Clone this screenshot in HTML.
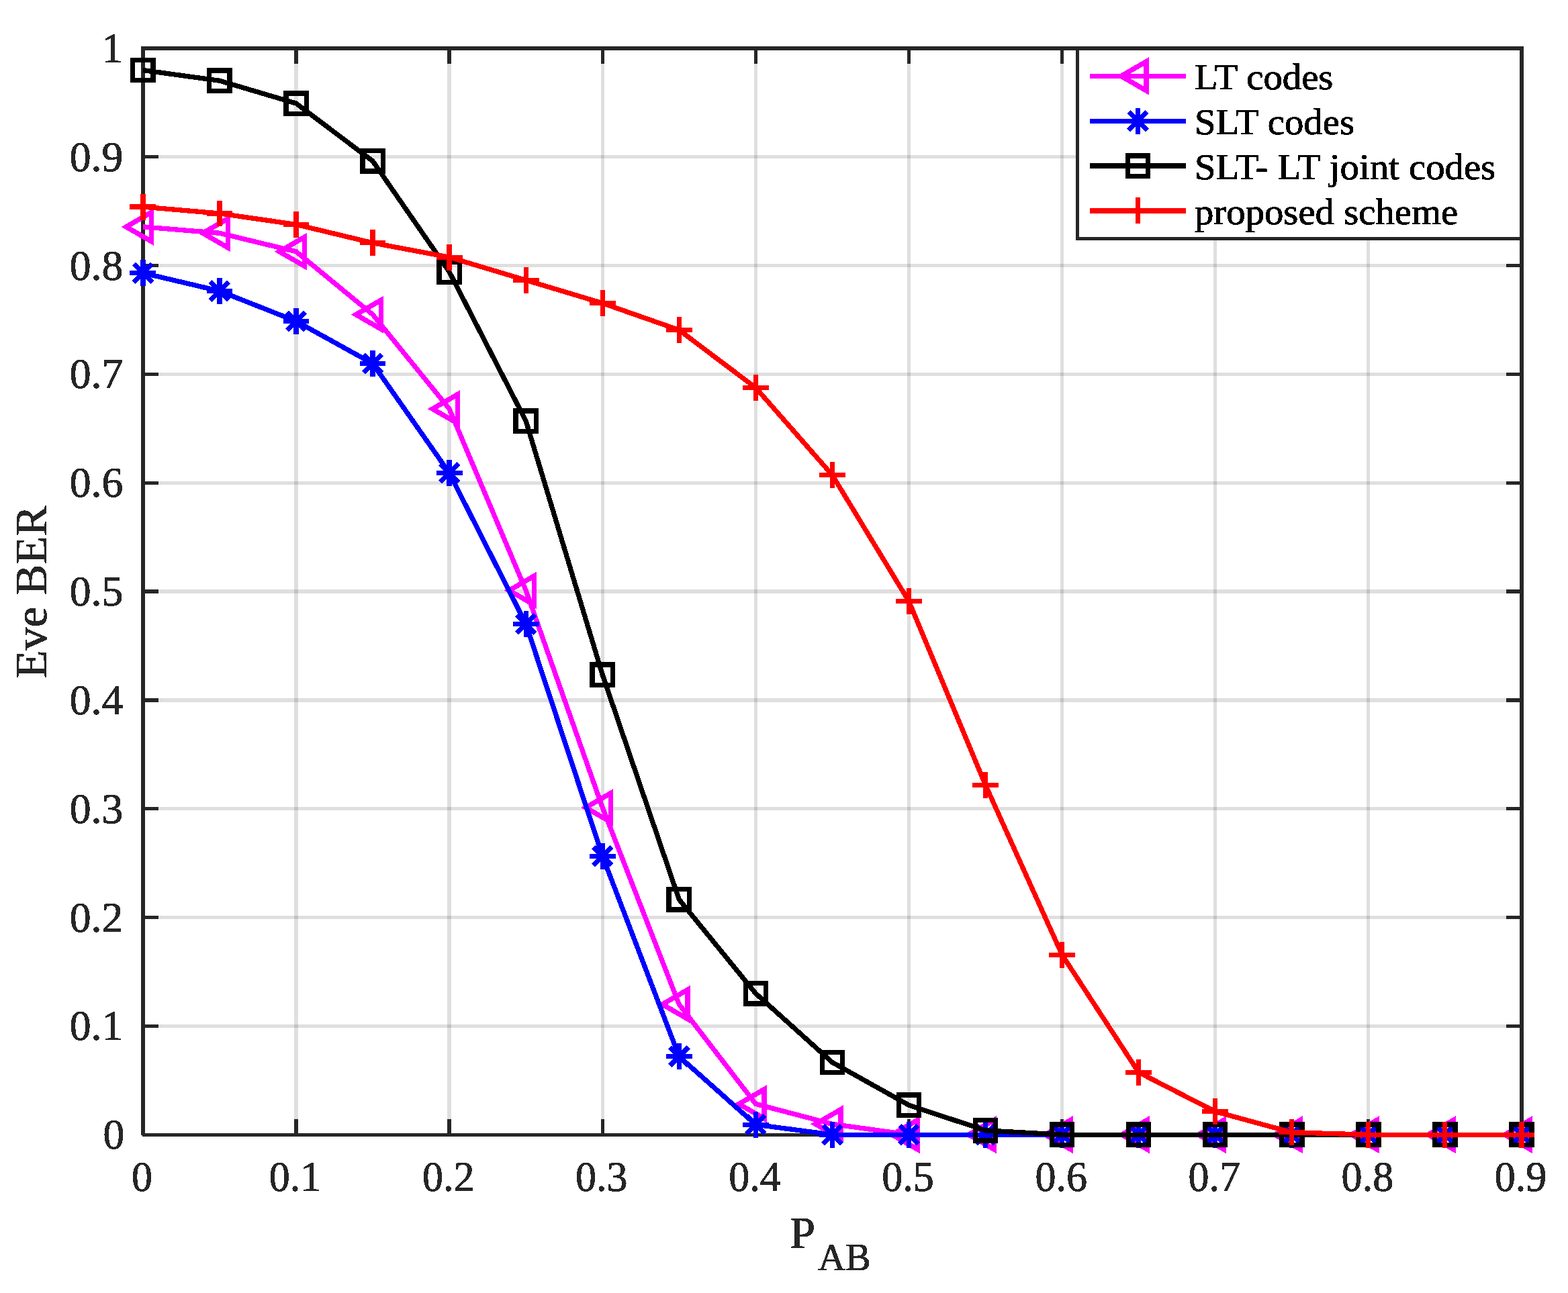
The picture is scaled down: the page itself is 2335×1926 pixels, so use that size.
<!DOCTYPE html>
<html lang="en">
<head>
<meta charset="utf-8">
<title>Eve BER versus P_AB</title>
<style>
html,body{margin:0;padding:0;background:#fff;}
svg{display:block;width:2335px;height:1926px;}
</style>
</head>
<body>
<svg width="2335" height="1926" viewBox="0 0 2335 1926" role="img" aria-label="Eve BER versus P AB for LT codes, SLT codes, SLT- LT joint codes and the proposed scheme">
<defs><filter id="crisp" x="-5%" y="-20%" width="110%" height="140%" color-interpolation-filters="sRGB"><feComponentTransfer><feFuncA type="discrete" tableValues="0 0 1 1 1"/></feComponentTransfer></filter></defs>
<rect width="2335" height="1926" fill="#fff"/>
<g id="grid" stroke="#262626" stroke-opacity="0.15" stroke-width="5.3" fill="none" shape-rendering="crispEdges">
<path d="M441.01 72.0V1690.2"/>
<path d="M669.12 72.0V1690.2"/>
<path d="M897.23 72.0V1690.2"/>
<path d="M1125.34 72.0V1690.2"/>
<path d="M1353.46 72.0V1690.2"/>
<path d="M1581.57 72.0V1690.2"/>
<path d="M1809.68 72.0V1690.2"/>
<path d="M2037.79 72.0V1690.2"/>
<path d="M212.9 1528.38H2265.9"/>
<path d="M212.9 1366.56H2265.9"/>
<path d="M212.9 1204.74H2265.9"/>
<path d="M212.9 1042.92H2265.9"/>
<path d="M212.9 881.1H2265.9"/>
<path d="M212.9 719.28H2265.9"/>
<path d="M212.9 557.46H2265.9"/>
<path d="M212.9 395.64H2265.9"/>
<path d="M212.9 233.82H2265.9"/>
</g>
<g id="axes" stroke="#262626" stroke-width="5.3" fill="none" shape-rendering="crispEdges">
<path d="M210.25 72.0H2268.55M212.3 1690.2H2268.55M212.9 72.0V1690.6M2265.9 72.0V1692.85"/>
<path d="M441.01 1690.2v-23M441.01 72.0v23M669.12 1690.2v-23M669.12 72.0v23M897.23 1690.2v-23M897.23 72.0v23M1125.34 1690.2v-23M1125.34 72.0v23M1353.46 1690.2v-23M1353.46 72.0v23M1581.57 1690.2v-23M1581.57 72.0v23M1809.68 1690.2v-23M1809.68 72.0v23M2037.79 1690.2v-23M2037.79 72.0v23M212.9 1528.38h23M2265.9 1528.38h-23M212.9 1366.56h23M2265.9 1366.56h-23M212.9 1204.74h23M2265.9 1204.74h-23M212.9 1042.92h23M2265.9 1042.92h-23M212.9 881.1h23M2265.9 881.1h-23M212.9 719.28h23M2265.9 719.28h-23M212.9 557.46h23M2265.9 557.46h-23M212.9 395.64h23M2265.9 395.64h-23M212.9 233.82h23M2265.9 233.82h-23"/>
</g>
<g id="ticklabels" font-family="'Liberation Serif', serif" fill="#262626" stroke="#262626" stroke-width="0.7" stroke-linejoin="round" filter="url(#crisp)">
<g text-anchor="middle" font-size="63">
<text transform="translate(211.5 1774) scale(0.985 1)">0</text>
<text transform="translate(439.61 1774) scale(0.985 1)">0.1</text>
<text transform="translate(667.72 1774) scale(0.985 1)">0.2</text>
<text transform="translate(895.83 1774) scale(0.985 1)">0.3</text>
<text transform="translate(1123.94 1774) scale(0.985 1)">0.4</text>
<text transform="translate(1352.06 1774) scale(0.985 1)">0.5</text>
<text transform="translate(1580.17 1774) scale(0.985 1)">0.6</text>
<text transform="translate(1808.28 1774) scale(0.985 1)">0.7</text>
<text transform="translate(2036.39 1774) scale(0.985 1)">0.8</text>
<text transform="translate(2264.5 1774) scale(0.985 1)">0.9</text>
</g><g text-anchor="end" font-size="63.7">
<text x="185.3" y="1711.2">0</text>
<text x="183.3" y="1549.38">0.1</text>
<text x="183.3" y="1387.56">0.2</text>
<text x="183.3" y="1225.74">0.3</text>
<text x="183.3" y="1063.92">0.4</text>
<text x="183.3" y="902.1">0.5</text>
<text x="183.3" y="740.28">0.6</text>
<text x="183.3" y="578.46">0.7</text>
<text x="183.3" y="416.64">0.8</text>
<text x="183.3" y="254.82">0.9</text>
<text x="183.3" y="93">1</text>
</g></g>
<g id="axislabels" font-family="'Liberation Serif', serif" fill="#262626" stroke="#262626" stroke-width="0.7" stroke-linejoin="round" filter="url(#crisp)"><text font-size="68.75" text-anchor="middle" transform="translate(68.9 881.7) rotate(-90) scale(1 0.978)">Eve BER</text><text font-size="68.75" transform="translate(1175.9 1858.8) scale(1 0.978)">P</text><text font-size="56.4" transform="translate(1218.3 1892.4) scale(1 1)">AB</text></g>
<g id="series-lt" shape-rendering="crispEdges">
<polyline points="212.9,337.87 326.96,347.26 441.01,374.77 555.07,468.62 669.12,609.08 783.18,879.48 897.23,1202.96 1011.29,1496.02 1125.34,1644.4 1239.4,1674.34 1353.46,1690.2 1467.51,1690.2 1581.57,1690.2 1695.62,1690.2 1809.68,1690.2 1923.73,1690.2 2037.79,1690.2 2151.84,1690.2 2265.9,1690.2" fill="none" stroke="#ff00ff" stroke-width="7.3" stroke-linejoin="round"/>
<g fill="none" stroke="#ff00ff" stroke-width="7.47" stroke-linejoin="miter" stroke-miterlimit="10">
<path d="M187.9 337.87L225.4 316.22V359.52Z"/>
<path d="M301.96 347.26L339.46 325.61V368.91Z"/>
<path d="M416.01 374.77L453.51 353.11V396.42Z"/>
<path d="M530.07 468.62L567.57 446.97V490.27Z"/>
<path d="M644.12 609.08L681.62 587.43V630.73Z"/>
<path d="M758.18 879.48L795.68 857.83V901.13Z"/>
<path d="M872.23 1202.96L909.73 1181.31V1224.61Z"/>
<path d="M986.29 1496.02L1023.79 1474.37V1517.67Z"/>
<path d="M1100.34 1644.4L1137.84 1622.75V1666.06Z"/>
<path d="M1214.4 1674.34L1251.9 1652.69V1695.99Z"/>
<path d="M1328.46 1690.2L1365.96 1668.55V1711.85Z"/>
<path d="M1442.51 1690.2L1480.01 1668.55V1711.85Z"/>
<path d="M1556.57 1690.2L1594.07 1668.55V1711.85Z"/>
<path d="M1670.62 1690.2L1708.12 1668.55V1711.85Z"/>
<path d="M1784.68 1690.2L1822.18 1668.55V1711.85Z"/>
<path d="M1898.73 1690.2L1936.23 1668.55V1711.85Z"/>
<path d="M2012.79 1690.2L2050.29 1668.55V1711.85Z"/>
<path d="M2126.84 1690.2L2164.34 1668.55V1711.85Z"/>
<path d="M2240.9 1690.2L2278.4 1668.55V1711.85Z"/>
</g></g>
<g id="series-slt" shape-rendering="crispEdges">
<polyline points="212.9,406.64 326.96,433.51 441.01,478.49 555.07,541.6 669.12,704.55 783.18,929.48 897.23,1275.29 1011.29,1573.69 1125.34,1675.15 1239.4,1690.2 1353.46,1690.2 1467.51,1690.2 1581.57,1690.2 1695.62,1690.2 1809.68,1690.2 1923.73,1690.2 2037.79,1690.2 2151.84,1690.2 2265.9,1690.2" fill="none" stroke="#0000ff" stroke-width="7.3" stroke-linejoin="round"/>
<g fill="none" stroke="#0000ff" stroke-width="7.3" stroke-linejoin="miter" stroke-miterlimit="10">
<path d="M193.48 406.64H232.32M212.9 387.22V426.06M199.17 392.91L226.63 420.38M199.17 420.38L226.63 392.91"/>
<path d="M307.54 433.51H346.38M326.96 414.09V452.93M313.22 419.77L340.69 447.24M313.22 447.24L340.69 419.77"/>
<path d="M421.59 478.49H460.43M441.01 459.07V497.91M427.28 464.76L454.74 492.22M427.28 492.22L454.74 464.76"/>
<path d="M535.65 541.6H574.49M555.07 522.18V561.02M541.33 527.87L568.8 555.33M541.33 555.33L568.8 527.87"/>
<path d="M649.7 704.55H688.54M669.12 685.13V723.97M655.39 690.82L682.85 718.29M655.39 718.29L682.85 690.82"/>
<path d="M763.76 929.48H802.6M783.18 910.06V948.9M769.45 915.75L796.91 943.22M769.45 943.22L796.91 915.75"/>
<path d="M877.81 1275.29H916.65M897.23 1255.87V1294.71M883.5 1261.56L910.97 1289.03M883.5 1289.03L910.97 1261.56"/>
<path d="M991.87 1573.69H1030.71M1011.29 1554.27V1593.11M997.56 1559.96L1025.02 1587.42M997.56 1587.42L1025.02 1559.96"/>
<path d="M1105.92 1675.15H1144.76M1125.34 1655.73V1694.57M1111.61 1661.42L1139.08 1688.88M1111.61 1688.88L1139.08 1661.42"/>
<path d="M1219.98 1690.2H1258.82M1239.4 1670.78V1709.62M1225.67 1676.47L1253.13 1703.93M1225.67 1703.93L1253.13 1676.47"/>
<path d="M1334.04 1690.2H1372.88M1353.46 1670.78V1709.62M1339.72 1676.47L1367.19 1703.93M1339.72 1703.93L1367.19 1676.47"/>
<path d="M1448.09 1690.2H1486.93M1467.51 1670.78V1709.62M1453.78 1676.47L1481.24 1703.93M1453.78 1703.93L1481.24 1676.47"/>
<path d="M1562.15 1690.2H1600.99M1581.57 1670.78V1709.62M1567.83 1676.47L1595.3 1703.93M1567.83 1703.93L1595.3 1676.47"/>
<path d="M1676.2 1690.2H1715.04M1695.62 1670.78V1709.62M1681.89 1676.47L1709.35 1703.93M1681.89 1703.93L1709.35 1676.47"/>
<path d="M1790.26 1690.2H1829.1M1809.68 1670.78V1709.62M1795.95 1676.47L1823.41 1703.93M1795.95 1703.93L1823.41 1676.47"/>
<path d="M1904.31 1690.2H1943.15M1923.73 1670.78V1709.62M1910 1676.47L1937.47 1703.93M1910 1703.93L1937.47 1676.47"/>
<path d="M2018.37 1690.2H2057.21M2037.79 1670.78V1709.62M2024.06 1676.47L2051.52 1703.93M2024.06 1703.93L2051.52 1676.47"/>
<path d="M2132.42 1690.2H2171.26M2151.84 1670.78V1709.62M2138.11 1676.47L2165.58 1703.93M2138.11 1703.93L2165.58 1676.47"/>
<path d="M2246.48 1690.2H2285.32M2265.9 1670.78V1709.62M2252.17 1676.47L2279.63 1703.93M2252.17 1703.93L2279.63 1676.47"/>
</g></g>
<g id="series-j" shape-rendering="crispEdges">
<polyline points="212.9,104.53 326.96,120.22 441.01,154.04 555.07,239.97 669.12,405.03 783.18,627.04 897.23,1005.22 1011.29,1339.86 1125.34,1479.83 1239.4,1582.43 1353.46,1646.18 1467.51,1683.89 1581.57,1690.2 1695.62,1690.2 1809.68,1690.2 1923.73,1690.2 2037.79,1690.2 2151.84,1690.2 2265.9,1690.2" fill="none" stroke="#000000" stroke-width="7.3" stroke-linejoin="round"/>
<g fill="#000000" stroke="none">
<path fill-rule="evenodd" d="M194.1 85.73H231.7V123.33H194.1ZM201.4 93.03H224.4V116.03H201.4Z"/>
<path fill-rule="evenodd" d="M308.16 101.42H345.76V139.02H308.16ZM315.46 108.72H338.46V131.72H315.46Z"/>
<path fill-rule="evenodd" d="M422.21 135.24H459.81V172.84H422.21ZM429.51 142.54H452.51V165.54H429.51Z"/>
<path fill-rule="evenodd" d="M536.27 221.17H573.87V258.77H536.27ZM543.57 228.47H566.57V251.47H543.57Z"/>
<path fill-rule="evenodd" d="M650.32 386.23H687.92V423.83H650.32ZM657.62 393.53H680.62V416.53H657.62Z"/>
<path fill-rule="evenodd" d="M764.38 608.24H801.98V645.84H764.38ZM771.68 615.54H794.68V638.54H771.68Z"/>
<path fill-rule="evenodd" d="M878.43 986.42H916.03V1024.02H878.43ZM885.73 993.72H908.73V1016.72H885.73Z"/>
<path fill-rule="evenodd" d="M992.49 1321.06H1030.09V1358.66H992.49ZM999.79 1328.36H1022.79V1351.36H999.79Z"/>
<path fill-rule="evenodd" d="M1106.54 1461.03H1144.14V1498.63H1106.54ZM1113.84 1468.33H1136.84V1491.33H1113.84Z"/>
<path fill-rule="evenodd" d="M1220.6 1563.63H1258.2V1601.23H1220.6ZM1227.9 1570.93H1250.9V1593.93H1227.9Z"/>
<path fill-rule="evenodd" d="M1334.66 1627.38H1372.26V1664.98H1334.66ZM1341.96 1634.68H1364.96V1657.68H1341.96Z"/>
<path fill-rule="evenodd" d="M1448.71 1665.09H1486.31V1702.69H1448.71ZM1456.01 1672.39H1479.01V1695.39H1456.01Z"/>
<path fill-rule="evenodd" d="M1562.77 1671.4H1600.37V1709H1562.77ZM1570.07 1678.7H1593.07V1701.7H1570.07Z"/>
<path fill-rule="evenodd" d="M1676.82 1671.4H1714.42V1709H1676.82ZM1684.12 1678.7H1707.12V1701.7H1684.12Z"/>
<path fill-rule="evenodd" d="M1790.88 1671.4H1828.48V1709H1790.88ZM1798.18 1678.7H1821.18V1701.7H1798.18Z"/>
<path fill-rule="evenodd" d="M1904.93 1671.4H1942.53V1709H1904.93ZM1912.23 1678.7H1935.23V1701.7H1912.23Z"/>
<path fill-rule="evenodd" d="M2018.99 1671.4H2056.59V1709H2018.99ZM2026.29 1678.7H2049.29V1701.7H2026.29Z"/>
<path fill-rule="evenodd" d="M2133.04 1671.4H2170.64V1709H2133.04ZM2140.34 1678.7H2163.34V1701.7H2140.34Z"/>
<path fill-rule="evenodd" d="M2247.1 1671.4H2284.7V1709H2247.1ZM2254.4 1678.7H2277.4V1701.7H2254.4Z"/>
</g></g>
<g id="series-p" shape-rendering="crispEdges">
<polyline points="212.9,308.1 326.96,317.97 441.01,334.47 555.07,361.82 669.12,383.18 783.18,417.32 897.23,451.63 1011.29,491.6 1125.34,577.53 1239.4,707.63 1353.46,895.66 1467.51,1169.3 1581.57,1422.23 1695.62,1597.32 1809.68,1655.73 1923.73,1686.8 2037.79,1690.2 2151.84,1690.2 2265.9,1690.2" fill="none" stroke="#ff0000" stroke-width="7.3" stroke-linejoin="round"/>
<g fill="none" stroke="#ff0000" stroke-width="7.3" stroke-linejoin="miter" stroke-miterlimit="10">
<path d="M193.48 308.1H232.32M212.9 288.68V327.52"/>
<path d="M307.54 317.97H346.38M326.96 298.55V337.39"/>
<path d="M421.59 334.47H460.43M441.01 315.05V353.89"/>
<path d="M535.65 361.82H574.49M555.07 342.4V381.24"/>
<path d="M649.7 383.18H688.54M669.12 363.76V402.6"/>
<path d="M763.76 417.32H802.6M783.18 397.9V436.74"/>
<path d="M877.81 451.63H916.65M897.23 432.21V471.05"/>
<path d="M991.87 491.6H1030.71M1011.29 472.18V511.02"/>
<path d="M1105.92 577.53H1144.76M1125.34 558.11V596.95"/>
<path d="M1219.98 707.63H1258.82M1239.4 688.21V727.05"/>
<path d="M1334.04 895.66H1372.88M1353.46 876.24V915.08"/>
<path d="M1448.09 1169.3H1486.93M1467.51 1149.88V1188.72"/>
<path d="M1562.15 1422.23H1600.99M1581.57 1402.81V1441.65"/>
<path d="M1676.2 1597.32H1715.04M1695.62 1577.9V1616.74"/>
<path d="M1790.26 1655.73H1829.1M1809.68 1636.31V1675.15"/>
<path d="M1904.31 1686.8H1943.15M1923.73 1667.38V1706.22"/>
<path d="M2018.37 1690.2H2057.21M2037.79 1670.78V1709.62"/>
<path d="M2132.42 1690.2H2171.26M2151.84 1670.78V1709.62"/>
<path d="M2246.48 1690.2H2285.32M2265.9 1670.78V1709.62"/>
</g></g>
<g id="legend">
<rect x="1604.5" y="72.0" width="661.4000000000001" height="283.0" fill="#fff"/>
<path d="M1604.5 72.0V355.0M1602 355.0H2265.9M1604.5 72.0H2265.9M2265.9 72.0V355.0" fill="none" stroke="#262626" stroke-width="5" shape-rendering="crispEdges"/>
<g shape-rendering="crispEdges">
<path d="M1623 113.36H1766" stroke="#ff00ff" stroke-width="7.3" fill="none"/>
<g fill="none" stroke="#ff00ff" stroke-width="7.47" stroke-linejoin="miter" stroke-miterlimit="10"><path d="M1669.5 113.36L1707 91.71V135.01Z"/></g>
<path d="M1623 180.2H1766" stroke="#0000ff" stroke-width="7.3" fill="none"/>
<g fill="none" stroke="#0000ff" stroke-width="7.3" stroke-linejoin="miter" stroke-miterlimit="10"><path d="M1675.08 180.2H1713.92M1694.5 160.78V199.62M1680.77 166.47L1708.23 193.93M1680.77 193.93L1708.23 166.47"/></g>
<path d="M1623 247.04H1766" stroke="#000000" stroke-width="7.3" fill="none"/>
<g fill="#000000" stroke="none"><path fill-rule="evenodd" d="M1675.7 228.24H1713.3V265.84H1675.7ZM1683 235.54H1706V258.54H1683Z"/></g>
<path d="M1623 313.88H1766" stroke="#ff0000" stroke-width="7.3" fill="none"/>
<g fill="none" stroke="#ff0000" stroke-width="7.3" stroke-linejoin="miter" stroke-miterlimit="10"><path d="M1675.08 313.88H1713.92M1694.5 294.46V333.3"/></g>
</g>
<g font-family="'Liberation Serif', serif" font-size="56.75" fill="#000" stroke="#000" stroke-width="0.7" stroke-linejoin="round" filter="url(#crisp)">
<text transform="translate(1779 132.8) scale(1 0.97)">LT codes</text>
<text transform="translate(1779 199.8) scale(1 0.97)">SLT codes</text>
<text transform="translate(1779 266.6) scale(1 0.97)">SLT- LT joint codes</text>
<text transform="translate(1779 333.5) scale(1 0.97)">proposed scheme</text>
</g></g>
</svg>
</body>
</html>
